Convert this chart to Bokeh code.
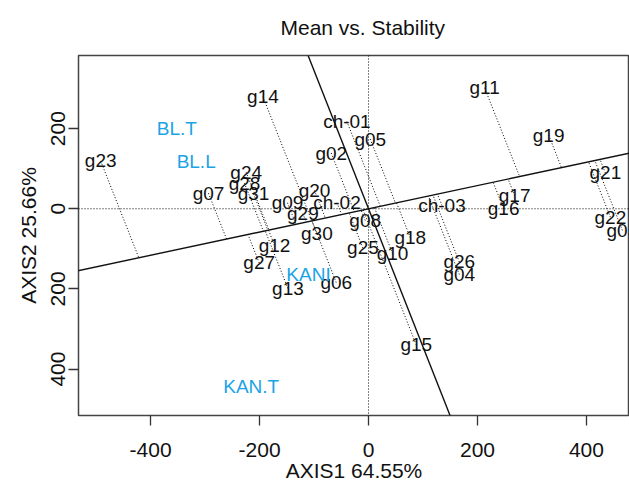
from bokeh.plotting import figure
from bokeh.models import Range1d, FixedTicker, Slope, Span
from bokeh.core.properties import value
from bokeh.embed import file_html
from bokeh.resources import INLINE

# Genotype scores (AXIS1, AXIS2)
gen_names = ["g23", "g14", "ch-01", "g05", "g02", "g24", "g28", "g31", "g07", "g20",
             "g09", "g29", "ch-02", "g08", "g30", "g12", "g27", "g13", "g06", "g25",
             "g10", "g18", "g15", "ch-03", "g26", "g04", "g17", "g16", "g11", "g19",
             "g21", "g22", "g03"]
gen_x = [-491.7, -193.9, -39.7, 3.1, -68.5, -224.6, -227.7, -211.2, -293.8, -99.2,
         -148.8, -120.5, -58.0, -6.1, -94.8, -172.6, -200.7, -148.0, -59.3, -10.3,
         44.1, 76.6, 87.6, 134.8, 166.6, 166.6, 268.1, 247.9, 213.0, 330.6,
         434.7, 443.9, 465.9]
gen_y = [119.3, 279.8, 217.6, 173.9, 139.1, 90.9, 63.6, 37.3, 38.8, 45.5,
         14.9, -12.4, 14.9, -29.1, -62.1, -91.2, -135.2, -198.8, -183.9, -97.9,
         -111.8, -72.0, -339.6, 8.2, -132.7, -164.0, 33.0, 0.0, 302.1, 183.9,
         89.4, -20.9, -53.9]

# Environment scores
env_names = ["BL.T", "BL.L", "KANI", "KAN.T"]
env_x = [-351.9, -316.4, -110.2, -215.4]
env_y = [201.2, 117.0, -163.2, -443.2]

x_ticks = [-400, -200, 0, 200, 400]
x_tick_labels = ["-400", "-200", "0", "200", "400"]
y_ticks = [-400, -200, 0, 200]
y_tick_labels = ["400", "200", "0", "200"]

FONT = "Liberation Sans"

# average environment axis direction
mx = sum(env_x) / len(env_x)
my = sum(env_y) / len(env_y)
slope = my / mx

# projections of genotypes onto the average environment axis
den = 1 + slope * slope
proj_x = [(gx + slope * gy) / den for gx, gy in zip(gen_x, gen_y)]
proj_y = [slope * t for t in proj_x]

p = figure(width=629, height=484, output_backend="svg", toolbar_location=None,
           x_range=Range1d(-532.4, 479), y_range=Range1d(-516, 382.6),
           min_border_left=78, min_border_right=0, min_border_top=54,
           min_border_bottom=68)

p.title.text = "Mean vs. Stability"
p.title.align = "left"
p.title.vertical_align = "top"
p.title.offset = 202
p.title.text_font = FONT
p.title.text_font_size = "21px"
p.title.text_font_style = "normal"
p.title.text_color = "#111111"
p.title.standoff = 30

p.grid.visible = False
p.outline_line_color = "#444444"
p.outline_line_width = 1.5
p.background_fill_color = "white"
p.border_fill_color = "white"

p.xaxis.ticker = FixedTicker(ticks=x_ticks)
p.xaxis.major_label_overrides = dict(zip(x_ticks, x_tick_labels))
p.yaxis.ticker = FixedTicker(ticks=y_ticks)
p.yaxis.major_label_overrides = dict(zip(y_ticks, y_tick_labels))
p.yaxis.major_label_orientation = "vertical"

for ax in (p.xaxis[0], p.yaxis[0]):
    ax.axis_line_color = None
    ax.major_tick_in = 0
    ax.major_tick_out = 10
    ax.major_tick_line_color = "#333333"
    ax.major_tick_line_width = 1.3
    ax.minor_tick_line_color = None
    ax.major_label_text_font = FONT
    ax.major_label_text_font_size = "21px"
    ax.major_label_text_color = "#111111"
    ax.axis_label_text_font = FONT
    ax.axis_label_text_font_size = "21px"
    ax.axis_label_text_font_style = "normal"
    ax.axis_label_text_color = "#111111"

p.xaxis.axis_label = "AXIS1 64.55%"
p.yaxis.axis_label = "AXIS2 25.66%"
p.xaxis.major_label_standoff = 17
p.xaxis.axis_label_standoff = -1
p.yaxis.major_label_standoff = 3
p.yaxis.axis_label_standoff = 9

# reference dotted lines at origin
p.add_layout(Span(location=0, dimension="width", line_color="black",
                  line_dash="1 2", line_width=1))
p.add_layout(Span(location=0, dimension="height", line_color="black",
                  line_dash="1 2", line_width=1))

# average environment axis (abscissa) and its perpendicular (ordinate)
p.add_layout(Slope(gradient=slope, y_intercept=0, line_color="#111111", line_width=1.4))
p.add_layout(Slope(gradient=-1.0 / slope, y_intercept=0, line_color="#111111", line_width=1.4))

# projection lines
p.segment(x0=gen_x, y0=gen_y, x1=proj_x, y1=proj_y, line_color="black",
          line_dash="1 2", line_width=1)

# labels
p.text(x=gen_x, y=gen_y, text=gen_names, text_align="center", text_baseline="middle",
       text_font=value(FONT), text_font_size="19px", text_color="#111111")
p.text(x=env_x, y=env_y, text=env_names, text_align="center", text_baseline="middle",
       text_font=value(FONT), text_font_size="19px", text_color="#1aa3e6")

open("out.html", "w").write(file_html(p, INLINE))
